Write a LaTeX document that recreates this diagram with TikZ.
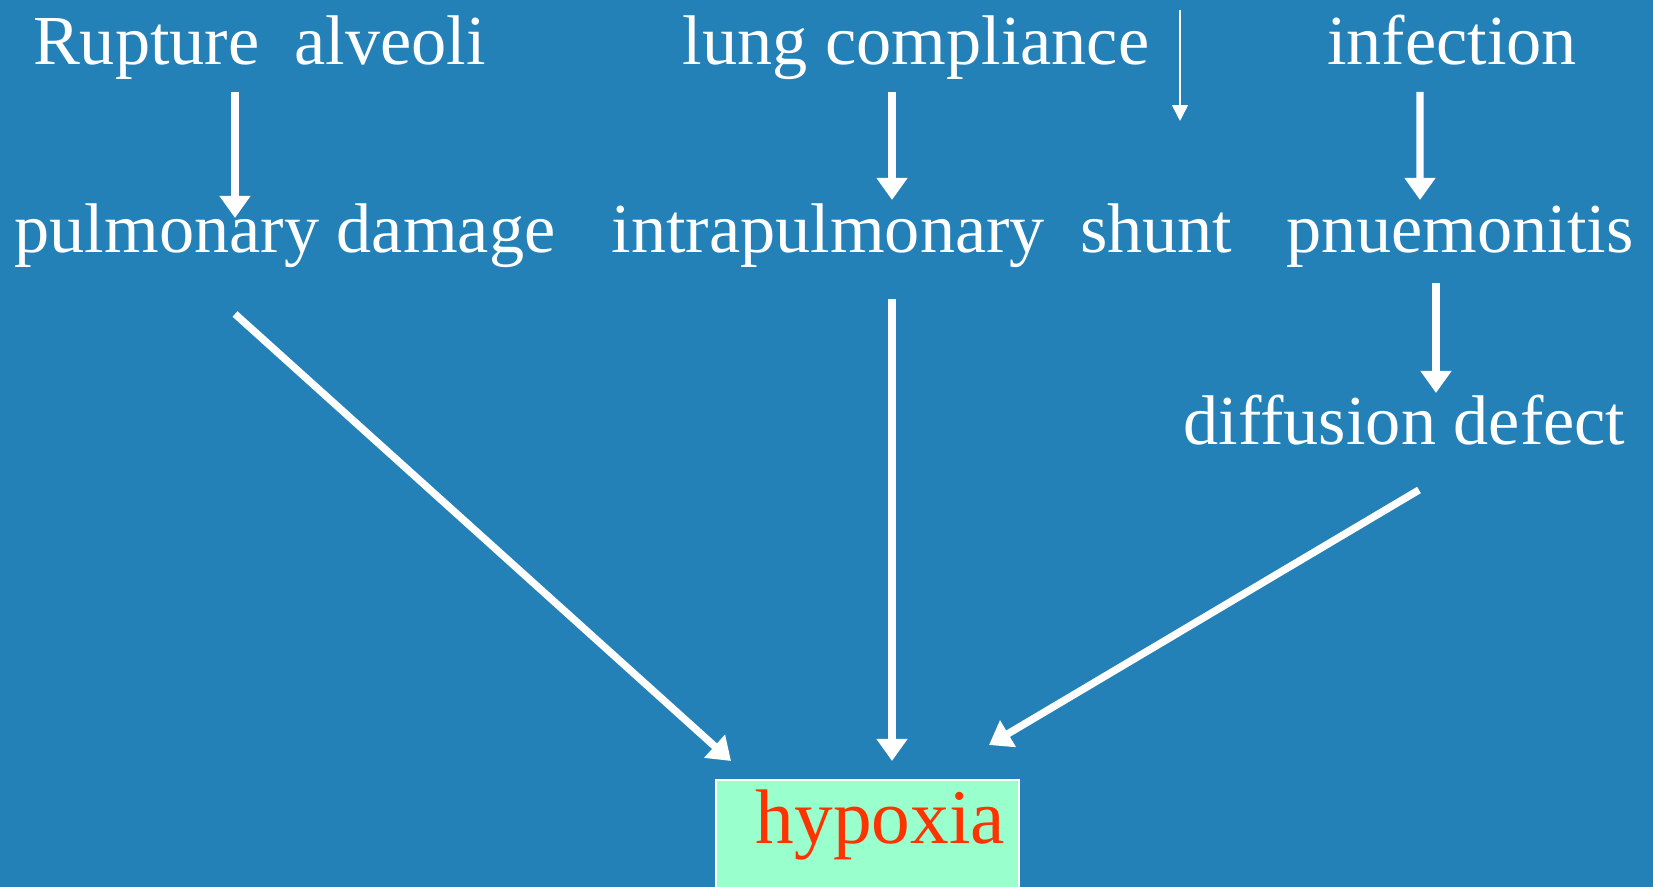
\documentclass[tikz,border=0pt]{standalone}
\usepackage{fontspec}
\setmainfont{Liberation Serif}
\usetikzlibrary{arrows.meta}

\definecolor{slidebg}{HTML}{2381B8}
\definecolor{boxfill}{HTML}{99FFCC}
\definecolor{hypred}{HTML}{FF3300}

\begin{document}
\begin{tikzpicture}[
    word/.style={white, anchor=base, inner sep=0pt, font=\fontsize{20}{24}\selectfont},
    bigarrow/.style={white, line width=2.1pt, -{Triangle[width=8.5pt,length=6.3pt]}},
    thinarrow/.style={white, line width=0.45pt, -{Triangle[width=4.5pt,length=4.5pt]}},
    hypbox/.style={draw=white, line width=0.5pt, fill=boxfill, anchor=north,
        text=hypred, font=\fontsize{22}{26}\selectfont, text width=2.75cm, align=right,
        inner xsep=0.14cm, inner ysep=0.14cm, text height=0.5cm, text depth=1cm}
]
    \fill[slidebg] (0,0) rectangle (16.53,8.87);
    \useasboundingbox (0,0) rectangle (16.53,8.87);

    \draw
    (2.595, 8.22) node[word](rupture){Rupture\ \ alveoli}
    (9.16, 8.22) node[word](lung){lung compliance}
    (14.52, 8.22) node[word](infect){infection}
    (2.85, 6.34) node[word](pulm){pulmonary damage}
    (9.22, 6.34) node[word](intra){intrapulmonary\ \ shunt}
    (14.60, 6.34) node[word](pneu){pnuemonitis}
    (14.045, 4.42) node[word](diff){diffusion defect}
    (8.675, 1.08) node[hypbox](hyp){hypoxia};

    \coordinate (shuntmark) at ([xshift=2.64cm,yshift=-0.56cm]lung.base);

    \draw[bigarrow] ([xshift=-0.245cm,yshift=-0.27cm]rupture.base) -- ([xshift=-0.5cm,yshift=0.35cm]pulm.base);
    \draw[bigarrow] ([xshift=-0.24cm,yshift=-0.27cm]lung.base) -- ([xshift=-0.3cm,yshift=0.53cm]intra.base);
    \draw[thinarrow] ([xshift=2.64cm,yshift=0.545cm]lung.base) -- (shuntmark);
    \draw[bigarrow] ([xshift=-0.32cm,yshift=-0.27cm]infect.base) -- ([xshift=-0.4cm,yshift=0.53cm]pneu.base);
    \draw[bigarrow] ([xshift=-0.24cm,yshift=-0.30cm]pneu.base) -- ([xshift=0.315cm,yshift=0.52cm]diff.base);
    \draw[bigarrow] ([xshift=-0.5cm,yshift=-0.61cm]pulm.base) -- ([xshift=-1.365cm,yshift=0.18cm]hyp.north);
    \draw[bigarrow] ([xshift=-0.3cm,yshift=-0.46cm]intra.base) -- ([xshift=0.245cm,yshift=0.18cm]hyp.north);
    \draw[bigarrow] ([xshift=0.145cm,yshift=-0.45cm]diff.base) -- ([xshift=1.215cm,yshift=0.34cm]hyp.north);

\end{tikzpicture}
\end{document}
